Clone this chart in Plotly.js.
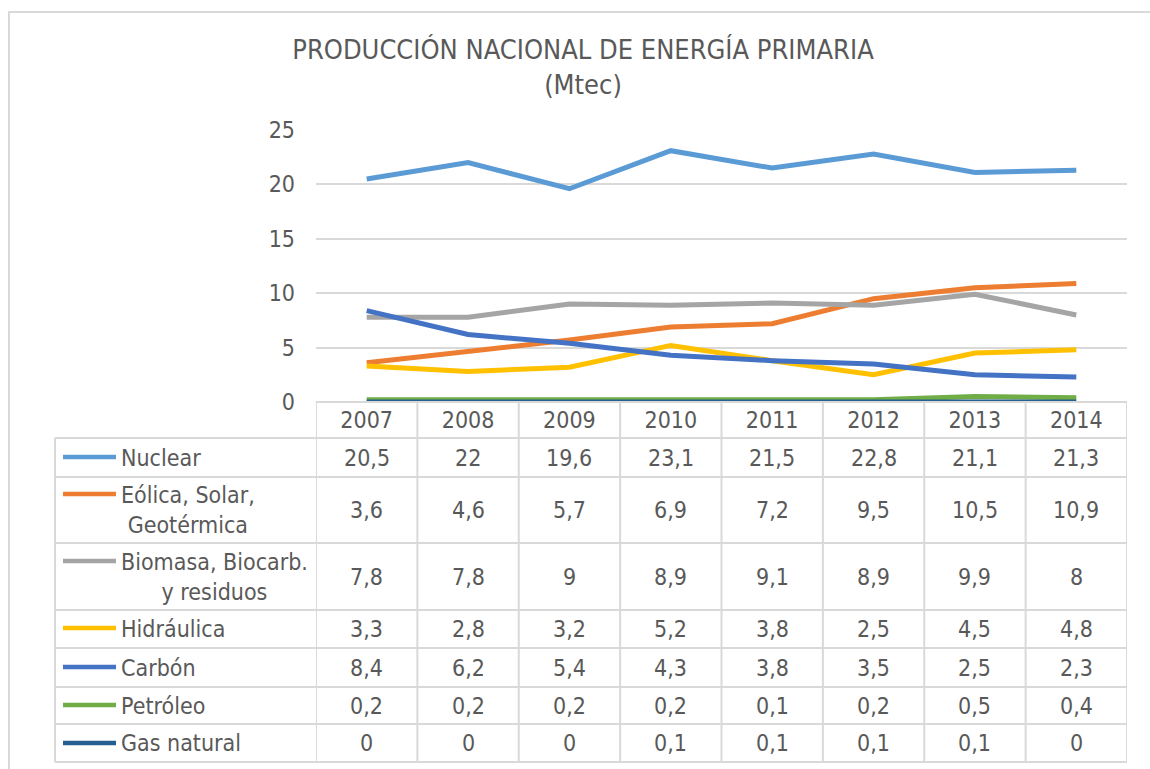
<!DOCTYPE html>
<html>
<head>
<meta charset="utf-8">
<script src="https://cdn.plot.ly/plotly-3.0.1.min.js"></script>
<style>html,body{margin:0;padding:0;background:#fff;}#chart{width:1150px;height:769px;}</style>
</head>
<body>
<div id="chart"></div>
<script>
var years = ['2007','2008','2009','2010','2011','2012','2013','2014'];
var seriesNames = ['Nuclear','Eólica, Solar,<br>Geotérmica','Biomasa, Biocarb.<br>y residuos','Hidráulica','Carbón','Petróleo','Gas natural'];
var nuclear    = [20.5, 22, 19.6, 23.1, 21.5, 22.8, 21.1, 21.3];
var eolica     = [3.6, 4.6, 5.7, 6.9, 7.2, 9.5, 10.5, 10.9];
var biomasa    = [7.8, 7.8, 9, 8.9, 9.1, 8.9, 9.9, 8];
var hidraulica = [3.3, 2.8, 3.2, 5.2, 3.8, 2.5, 4.5, 4.8];
var carbon     = [8.4, 6.2, 5.4, 4.3, 3.8, 3.5, 2.5, 2.3];
var petroleo   = [0.2, 0.2, 0.2, 0.2, 0.1, 0.2, 0.5, 0.4];
var gasNatural = [0, 0, 0, 0.1, 0.1, 0.1, 0.1, 0];
var colors = ['#5B9BD5','#ED7D31','#A5A5A5','#FFC000','#4472C4','#70AD47','#255E91'];

var allSeries = [nuclear, eolica, biomasa, hidraulica, carbon, petroleo, gasNatural];

(function(){
var W = 1150, H = 769;
var PL = 316, PR = 1127, PT = 130, PB = 402;
var rowEdges = [438, 477, 543, 610, 648, 687, 724, 762];
var keyY = [457, 494, 561, 628, 667, 705, 743];
function py(p){ return (PB - p) / (PB - PT); }
function px(p){ return (p - PL) / (PR - PL); }

var FONT = '"DejaVu Sans Condensed", "DejaVu Sans", sans-serif';
var TXT = '#595959';
var GRID = '#D9D9D9';

var traces = allSeries.map(function(s, i){
  return {
    x: years, y: s, type: 'scatter', mode: 'lines',
    name: seriesNames[i].replace('<br>', ' '),
    line: {color: colors[i], width: 5},
    hoverinfo: 'skip'
  };
});

var shapes = [];
var annotations = [];
shapes.push({type:'line', xref:'paper', yref:'paper', x0:0, x1:1, y0:py(PB), y1:py(PB), line:{color:GRID, width:2}});
rowEdges.forEach(function(r){
  shapes.push({type:'line', xref:'paper', yref:'paper', x0:px(55), x1:1, y0:py(r), y1:py(r), line:{color:GRID, width:2}});
});
shapes.push({type:'line', xref:'paper', yref:'paper', x0:px(55), x1:px(55), y0:py(438), y1:py(762), line:{color:GRID, width:2}});
for (var c = 0; c <= years.length; c++) {
  shapes.push({type:'line', xref:'x', yref:'paper', x0:c-0.5, x1:c-0.5, y0:py(PB), y1:py(762), line:{color:GRID, width:2}});
}
shapes.push({type:'rect', xref:'paper', yref:'paper', x0:px(9), x1:px(1170), y0:py(12), y1:py(790), line:{color:GRID, width:2}, fillcolor:'rgba(0,0,0,0)', layer:'below'});

for (var i = 0; i < allSeries.length; i++) {
  var rTop = rowEdges[i], rBot = rowEdges[i+1];
  var mid = (rTop + rBot) / 2;
  shapes.push({type:'line', xref:'paper', yref:'paper', x0:px(63), x1:px(116), y0:py(keyY[i]), y1:py(keyY[i]), line:{color:colors[i], width:4.5}});
  annotations.push({xref:'paper', yref:'paper', x:px(119), y:py(mid), xanchor:'left', yanchor:'middle', align:'center',
    text: seriesNames[i], showarrow:false, font:{family:FONT, size:23, color:TXT}});
  for (var j = 0; j < years.length; j++) {
    annotations.push({xref:'x', yref:'paper', x:j, y:py(mid), xanchor:'center', yanchor:'middle',
      text: String(allSeries[i][j]).replace('.', ','), showarrow:false, font:{family:FONT, size:23, color:TXT}});
  }
}

var layout = {
  width: W, height: H,
  margin: {l: PL, r: W - PR, t: PT, b: H - PB, pad: 0},
  paper_bgcolor: '#ffffff', plot_bgcolor: '#ffffff',
  showlegend: false,
  title: {text: 'PRODUCCIÓN NACIONAL DE ENERGÍA PRIMARIA<br>(Mtec)', font: {family: FONT, size: 27, color: TXT},
          xref: 'container', x: 583/W, xanchor: 'center', yref: 'container', y: 1 - 59/H, yanchor: 'top'},
  xaxis: {type: 'category', range: [-0.5, 7.5], showgrid: false, zeroline: false, showline: false,
          ticks: '', tickfont: {family: FONT, size: 23, color: TXT}, ticklabelstandoff: 2, fixedrange: true, automargin: false},
  yaxis: {range: [0, 25], dtick: 5, tick0: 0, showgrid: true, gridcolor: GRID, gridwidth: 2, zeroline: false, showline: false,
          ticks: '', tickfont: {family: FONT, size: 23, color: TXT}, ticklabelstandoff: 20, fixedrange: true, automargin: false},
  shapes: shapes,
  annotations: annotations
};

Plotly.newPlot('chart', traces, layout, {displayModeBar: false, staticPlot: true});
})();
</script>
</body>
</html>
